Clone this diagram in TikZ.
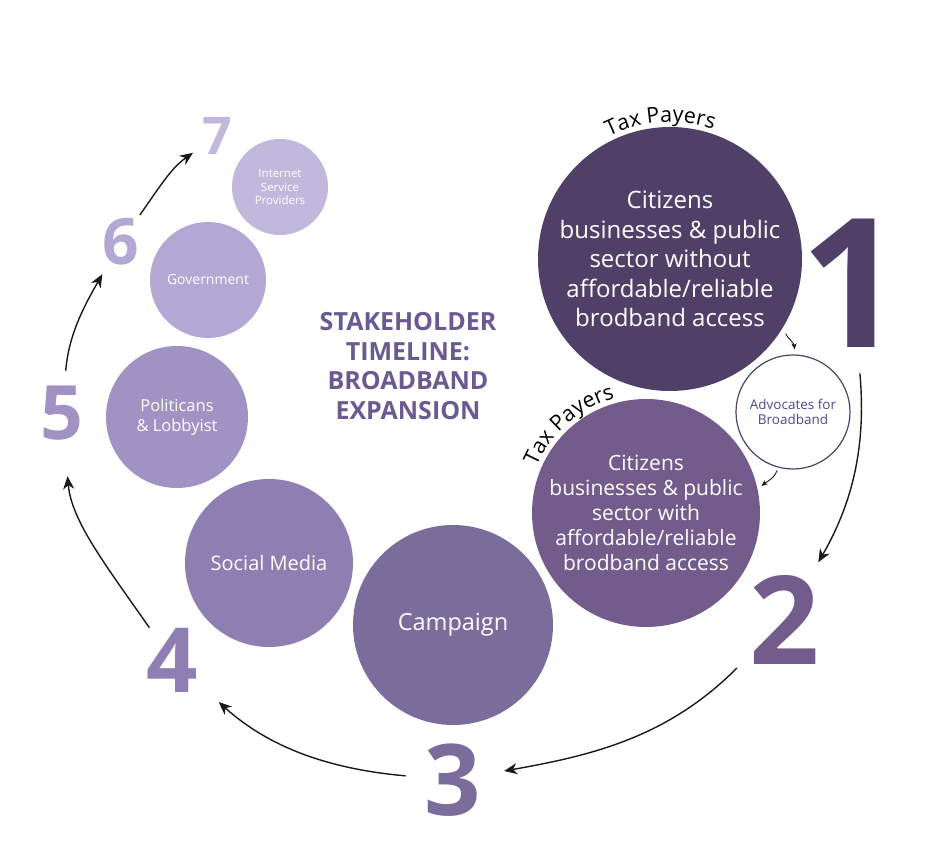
\documentclass[tikz,border=0pt]{standalone}
\usepackage{fontspec}
\setmainfont{Open Sans}
\usetikzlibrary{arrows.meta,decorations.text}
\definecolor{cone}{HTML}{504068}
\definecolor{ctwo}{HTML}{735C8C}
\definecolor{cthree}{HTML}{7A6C9B}
\definecolor{cfour}{HTML}{8F7EB2}
\definecolor{cfive}{HTML}{A192C4}
\definecolor{csix}{HTML}{B3A8D3}
\definecolor{cseven}{HTML}{C2B8DC}
\definecolor{ctitle}{HTML}{6B5A91}
\definecolor{cadv}{HTML}{4A4A8C}
\begin{document}
\begin{tikzpicture}[
    x=1pt, y=1pt,
    disc/.style={circle, inner sep=0pt, text=white, align=center},
    num/.style={inner sep=0pt, font=\bfseries\fontsize{#1}{#1}\selectfont},
    arr/.style={-{Stealth[length=13pt,width=11pt,inset=4pt]}, line width=1.4pt, black!90},
    tip/.style={-{Stealth[length=6pt,width=5pt,inset=1.5pt]}, line width=0.9pt, black!90},
    taxtext/.style={decorate, decoration={text along path, text align=center,
        text={|\fontsize{21.5}{21.5}\selectfont|Tax Payers}}}
]
\useasboundingbox (0,0) rectangle (943,851);
\node[disc, fill=cone, minimum size=264pt, font=\fontsize{24}{29.5}\selectfont] (cit1) at (670,592)
    {Citizens\\businesses \& public\\sector without\\affordable/reliable\\brodband access};
\node[disc, fill=white, draw=cone, line width=1.2pt, minimum size=114pt, text=cadv,
    font=\fontsize{13.5}{15.5}\selectfont] (adv) at (793,439) {Advocates for\\Broadband};
\node[disc, fill=ctwo, minimum size=228pt, font=\fontsize{21}{25}\selectfont] (cit2) at (646,338)
    {Citizens\\businesses \& public\\sector with\\affordable/reliable\\brodband access};
\node[disc, fill=cthree, minimum size=200pt, font=\fontsize{23.5}{26}\selectfont] (camp) at (453,226) {Campaign};
\node[disc, fill=cfour, minimum size=168pt, font=\fontsize{20}{22}\selectfont] (social) at (269,288) {Social Media};
\node[disc, fill=cfive, minimum size=142pt, font=\fontsize{16.5}{20}\selectfont] (polit) at (177,434) {Politicans\\\& Lobbyist};
\node[disc, fill=csix, minimum size=116pt, font=\fontsize{14}{15}\selectfont] (gov) at (208,571) {Government};
\node[disc, fill=cseven, minimum size=96pt, font=\fontsize{11.5}{13.5}\selectfont] (isp) at (280,664) {Internet\\Service\\Providers};

\node[num=180, text=cone] (n1) at (852,568) {1};
\node[num=123, text=ctwo] (n2) at (785,231) {2};
\node[num=99, text=cthree] (n3) at (453,71) {3};
\node[num=90, text=cfour] (n4) at (172,191) {4};
\node[num=75, text=cfive] (n5) at (62,438) {5};
\node[num=64, text=csix] (n6) at (121,609) {6};
\node[num=52, text=cseven] (n7) at (217,715) {7};

\node[text=ctitle, align=center, font=\bfseries\fontsize{25}{29.5}\selectfont] (title) at (408,485)
    {STAKEHOLDER\\TIMELINE:\\BROADBAND\\EXPANSION};

\path[taxtext] (cit1.center) ++(129:137) arc[start angle=129, end angle=59, radius=137];
\path[taxtext] (cit2.center) ++(160:119) arc[start angle=160, end angle=102, radius=119];

\draw[arr, shorten <=26pt, shorten >=15pt] (n1) to[out=-85, in=60] (n2);
\draw[arr, shorten <=18pt, shorten >=23pt] (n2) to[out=-135, in=10] (n3);
\draw[arr, shorten <=19pt, shorten >=28pt] (n3) to[out=175, in=-42] (n4);
\draw[arr, shorten >=36pt] (n4) to[out=125, in=-85] (n5);
\draw[arr, shorten <=15pt, shorten >=10pt] (n5) to[out=85, in=-120] (n6);
\draw[arr, shorten <=4pt, shorten >=11pt] (n6) to[out=55, in=-145] (n7);
\draw[tip, shorten <=7pt, shorten >=5pt] (cit1.-31) to[out=-70, in=95] (adv.88);
\draw[tip, shorten <=3pt, shorten >=5pt] (adv.-105) to[out=-110, in=40] (cit2.12);
\end{tikzpicture}
\end{document}
